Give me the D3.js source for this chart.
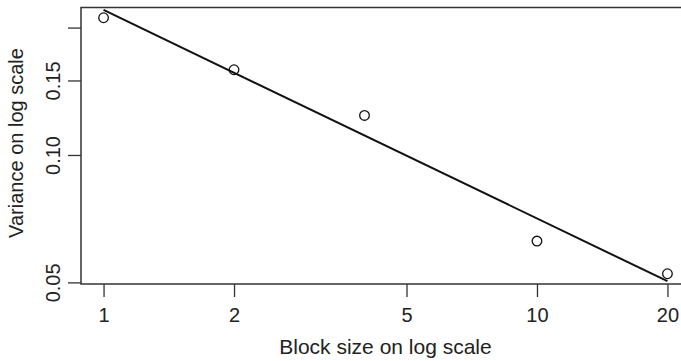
<!DOCTYPE html>
<html>
<head>
<meta charset="utf-8">
<script src="https://cdn.jsdelivr.net/npm/d3@7"></script>
<style>
  body { margin: 0; background: #fff; }
  svg { display: block; font-family: "Liberation Sans", Arial, sans-serif; }
</style>
</head>
<body>
<svg id="chart" width="681" height="361"></svg>
<script>
// data
const blockSizes = [1, 2, 4, 10, 20];
const variances = [0.211, 0.159, 0.124, 0.0626, 0.0524];

const xTicks = [1, 2, 5, 10, 20];
const xTickLabels = ["1", "2", "5", "10", "20"];
const yTicks = [0.05, 0.10, 0.15, 0.20];
const yTickLabels = ["0.05", "0.10", "0.15", ""]; // 0.20 label dropped like R does

const svg = d3.select("#chart");
const margin = { top: 7.5, right: -9, bottom: 77, left: 81 };
const width = 681 - margin.left - margin.right;
const height = 361 - margin.top - margin.bottom;

// R style 4% padding on log range
function padLog(ext) {
    const a = Math.log10(ext[0]), b = Math.log10(ext[1]);
    const p = (b - a) * 0.04;
    return [Math.pow(10, a - p), Math.pow(10, b + p)];
}

const x = d3.scaleLog().domain(padLog(d3.extent(blockSizes))).range([0, width]);
const y = d3.scaleLog().domain(padLog(d3.extent(variances))).range([height, 0]);

const g = svg.append("g").attr("transform", `translate(${margin.left},${margin.top})`);

// least squares fit on log-log
const lx = blockSizes.map(Math.log10), ly = variances.map(Math.log10);
const mx = d3.mean(lx), my = d3.mean(ly);
const slope = d3.sum(lx, (v, i) => (v - mx) * (ly[i] - my)) / d3.sum(lx, v => (v - mx) * (v - mx));
const icpt = my - slope * mx;
const fit = d3.extent(blockSizes).map(b => [b, Math.pow(10, icpt + slope * Math.log10(b))]);

g.append("path")
    .datum(fit)
    .attr("fill", "none")
    .attr("stroke", "#111")
    .attr("stroke-width", 2)
    .attr("d", d3.line().x(d => x(d[0])).y(d => y(d[1])));

g.selectAll(".pt")
    .data(blockSizes)
    .enter().append("circle")
    .attr("class", "pt")
    .attr("cx", d => x(d))
    .attr("cy", (d, i) => y(variances[i]))
    .attr("r", 4.8)
    .attr("fill", "none")
    .attr("stroke", "#111")
    .attr("stroke-width", 1.3);

// box
g.append("rect")
    .attr("width", width)
    .attr("height", height)
    .attr("fill", "none")
    .attr("stroke", "#333")
    .attr("stroke-width", 1.5);

// axes
const xAxis = g.append("g")
    .attr("transform", `translate(0,${height})`)
    .call(d3.axisBottom(x).tickValues(xTicks).tickFormat((d, i) => xTickLabels[i]).tickSize(13).tickPadding(11));
xAxis.select(".domain").remove();

const yAxis = g.append("g")
    .call(d3.axisLeft(y).tickValues(yTicks).tickFormat((d, i) => yTickLabels[i]).tickSize(13));
yAxis.select(".domain").remove();
yAxis.selectAll("text")
    .attr("transform", "rotate(-90)")
    .attr("x", 0)
    .attr("y", -21)
    .attr("dy", 0)
    .attr("text-anchor", "middle");

svg.selectAll(".tick line").attr("stroke", "#333").attr("stroke-width", 1.3);
svg.selectAll(".tick text")
    .attr("fill", "#222")
    .style("font-size", "20px")
    .style("font-family", "'Liberation Sans', Arial, sans-serif");

svg.append("text")
    .attr("x", margin.left + width / 2)
    .attr("y", 354)
    .attr("text-anchor", "middle")
    .attr("fill", "#222")
    .style("font-size", "21px")
    .text("Block size on log scale");

svg.append("text")
    .attr("transform", "translate(23,143) rotate(-90)")
    .attr("text-anchor", "middle")
    .attr("fill", "#222")
    .style("font-size", "20px")
    .text("Variance on log scale");
</script>
</body>
</html>
